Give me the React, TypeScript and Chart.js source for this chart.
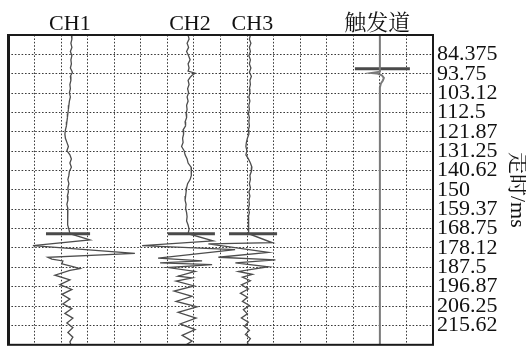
import React, { useEffect, useRef } from 'react';
import { Chart, registerables } from 'chart.js';

Chart.register(...registerables);

// Channel names and their baseline positions (in grid columns, 0..16)
const channelNames = ['CH1', 'CH2', 'CH3', '触发道'];
const channelBaselines = [2.33, 6.78, 9.05, 14.0];
const headerPositions = [2.33, 6.85, 9.2, 13.9];

// Travel-time axis (ms)
const yMin = 75;
const yMax = 225;
const yTickValues = [84.375, 93.75, 103.125, 112.5, 121.875, 131.25, 140.625, 150, 159.375, 168.75, 178.125, 187.5, 196.875, 206.25, 215.625];
const yTickLabels = ['84.375', '93.75', '103.12', '112.5', '121.87', '131.25', '140.62', '150', '159.37', '168.75', '178.12', '187.5', '196.87', '206.25', '215.62'];

// Trace samples: [time ms, amplitude]
const ch1Trace: [number, number][] = [
  [75, 1.5], [77, 2], [79, 1], [81, 2], [83, 0.5], [85, 2], [87, 1], [89, 1.5], [91, 0.5], [93, 2.5],
  [95, 0.5], [97, 1], [99, 0], [101, 0.5], [103, -0.5], [105, 0.5], [107, -0.5], [109, -1], [111, -1.5], [113, -2],
  [115, -2.5], [117, -3], [119, -3.5], [121, -4.5], [123, -5], [125, -4.5], [127, -3], [129, -1.5], [131, -3], [133, 0],
  [135, 1.5], [137, 0], [139, 1.5], [141, -0.5], [143, -1], [145, -2], [147, -1], [149, -2], [151, -1.5], [153, -2.5],
  [155, -2], [157, -3], [159, -2], [161, -2.5], [163, -2], [165, -2.5], [167, -2], [169, -1], [171.2, 0],
  [174.2, 20], [177, -37], [180.7, 65], [182.6, -22], [183.5, -18], [184.4, -7], [185.8, -8], [187.2, 3], [188.1, 10],
  [189, 0], [191.3, -15], [193.6, 0], [195.9, -10], [198.2, 2], [200.6, -8], [202.9, 0], [205.2, -7], [207.5, 2],
  [209.8, -5], [212.1, 3], [214.4, -3], [216.7, 3], [219, -2], [221.3, 3], [223.6, 0], [225, 1],
];

const ch2Trace: [number, number][] = [
  [75, 0], [77, 1], [79, -1], [81, 0.5], [83, -1.5], [85, 0.5], [87, 2], [89, 0], [91, 1], [92.5, 0],
  [93.5, 7], [94.5, 4], [95.5, 2], [97, 0], [99, 1], [101, -0.5], [103, 0.5], [105, -1], [107, 0], [109, -1.5],
  [111, -1], [113, -2], [115, -1.5], [117, -3], [119, -2.5], [121, -5], [123, -4.5], [125, -5.5], [127, -5], [129, -6.5],
  [131, -4], [133, -3], [135, -1], [137, 0], [139, 3], [141, 3.5], [143, 3], [145, 2], [147, -0.5], [149, -1.5],
  [151, -2], [153, -2.5], [155, -3], [157, -2], [159, -2.5], [161, -1.5], [163, -1], [165, -1.5], [167, 0], [169, 1],
  [171.2, 0], [174.7, 25], [177, -46], [178.9, 47], [183, -30], [184.4, 14], [185.3, -28], [186.2, 24], [187.6, -20],
  [189.5, 7], [191.8, -10], [192.6, 4], [194.2, -12], [196.5, 6], [199, -14], [201.5, 4], [204, -12], [206.6, 9],
  [209.3, -10], [212.1, 8], [214.9, -8], [217.6, 7], [220.4, -6], [223.2, 4], [225, -2],
];

const ch3Trace: [number, number][] = [
  [75, 2], [77, 1], [79, 2.5], [81, 1], [83, 2], [85, 0.5], [87, 2], [89, 1], [91, 2.5], [93, 1],
  [95, 3], [97, 1.5], [99, 2], [101, 1], [103, 1.5], [105, 0.5], [107, 1.5], [109, 0.5], [111, 1], [113, 0],
  [115, 1], [117, 0.5], [119, 1], [121, 0], [123, 0.5], [125, -1], [127, -2], [129, -2.5], [131, -1.5], [133, -2.5],
  [135, 0], [137, 2], [139, 3.5], [141, 3], [143, 1.5], [145, 2], [147, 1], [149, 2], [151, 0.5], [153, 1.5],
  [155, 0.5], [157, 1], [159, 0], [161, 1], [163, 0], [165, 0.5], [167, 0], [169, 0.5], [171.2, 0],
  [175.6, 24], [176.1, -40], [180.2, 20], [182.6, -30], [183.9, 27], [185.3, -13], [187.2, 20], [189.5, -10],
  [190.9, 4], [192.2, -6], [194, 2], [196, -7], [198, 0], [200, -8], [202, -1], [204, -6], [206, 1], [208, -5],
  [210, -1], [212, -7], [214, 0], [216, -4], [218, 1], [220, -3], [222, 2], [224, -1], [225, 0],
];

const triggerTrace: [number, number][] = [
  [75, 0], [92.8, 0], [93.4, -8], [93.6, -3], [94.5, 2], [95.8, 4], [97, 3], [98.5, 1], [100.4, 0], [225, 0],
];

// First-arrival picks: time (ms) and horizontal extent (grid columns)
const pickTimes = [171.2, 171.2, 171.2, 91.4];
const pickStarts = [1.43, 6.02, 8.32, 13.06];
const pickEnds = [3.09, 7.79, 10.13, 15.13];

const FONT = "'Liberation Serif', 'Times New Roman', 'Noto Serif CJK SC', 'Noto Sans CJK SC', serif";

export default function App() {
  const ref = useRef<HTMLCanvasElement>(null);

  useEffect(() => {
    if (!ref.current) return;
    const gain = 1 / 26.56;
    const traces = [ch1Trace, ch2Trace, ch3Trace, triggerTrace];
    const datasets: any[] = traces.map((tr, i) => ({
      label: channelNames[i],
      data: tr.map(([t, a]) => ({ x: channelBaselines[i] + a * gain, y: t })),
      borderColor: i === 3 ? '#7a7a7a' : '#4d4d4d',
      borderWidth: i === 3 ? 2 : 1.3,
      pointRadius: 0,
      showLine: true,
      fill: false,
      tension: 0,
      xAxisID: 'x',
      yAxisID: 'y',
    }));
    pickTimes.forEach((t, i) => {
      datasets.push({
        label: 'pick' + i,
        data: [{ x: pickStarts[i], y: t }, { x: pickEnds[i], y: t }],
        borderColor: '#4a4a4a',
        borderWidth: 3,
        pointRadius: 0,
        showLine: true,
        xAxisID: 'x',
        yAxisID: 'y',
      });
    });

    const framePlugin = {
      id: 'frame',
      afterDatasetsDraw(chart: any) {
        const { ctx, chartArea } = chart;
        const { left, top, right, bottom } = chartArea;
        ctx.save();
        ctx.strokeStyle = '#1a1a1a';
        ctx.lineWidth = 2;
        ctx.strokeRect(left, top, right - left, bottom - top);
        ctx.lineWidth = 3;
        ctx.beginPath();
        ctx.moveTo(left + 0.5, top);
        ctx.lineTo(left + 0.5, bottom);
        ctx.stroke();
        ctx.restore();
      },
    };

    const chart = new Chart(ref.current, {
      type: 'scatter',
      data: { datasets },
      options: {
        animation: false,
        responsive: false,
        layout: { padding: { left: 8, right: 0, top: 0, bottom: 0 } },
        plugins: { legend: { display: false }, tooltip: { enabled: false } },
        scales: {
          x: {
            type: 'linear',
            position: 'bottom',
            min: 0,
            max: 16,
            ticks: { stepSize: 1, display: false },
            grid: { color: '#3a3a3a', lineWidth: 1, drawTicks: false },
            border: { display: false, dash: [1.6, 1.8] },
            afterFit(s: any) { s.height = 1; },
          },
          xTop: {
            type: 'linear',
            position: 'top',
            min: 0,
            max: 16,
            grid: { display: false, drawTicks: false },
            border: { display: false },
            afterBuildTicks(s: any) { s.ticks = headerPositions.map((v) => ({ value: v })); },
            ticks: {
              callback: (_v: any, i: number) => channelNames[i],
              font: { family: FONT, size: 22 },
              color: '#111',
              padding: -2,
              maxRotation: 0,
              autoSkip: false,
            },
            afterFit(s: any) { s.height = 35; },
          },
          y: {
            type: 'linear',
            position: 'right',
            min: yMin,
            max: yMax,
            reverse: true,
            afterBuildTicks(s: any) { s.ticks = yTickValues.map((v) => ({ value: v })); },
            ticks: {
              callback: (_v: any, i: number) => yTickLabels[i],
              font: { family: FONT, size: 22 },
              color: '#111',
              padding: 4,
              autoSkip: false,
            },
            grid: { color: '#3a3a3a', lineWidth: 1, drawTicks: false },
            border: { display: false, dash: [1.6, 1.8] },
            title: {
              display: true,
              text: '走时/ms',
              font: { family: FONT, size: 22, lineHeight: 0.8 },
              color: '#111',
              padding: 0,
            },
            afterFit(s: any) { s.width = 93; },
          },
        },
      },
      plugins: [framePlugin],
    } as any);
    return () => chart.destroy();
  }, []);

  return (
    <div style={{ position: 'fixed', left: 0, top: 0, width: 526, height: 362, background: '#fff' }}>
      <canvas ref={ref} width={526} height={362} style={{ display: 'block' }} />
    </div>
  );
}
